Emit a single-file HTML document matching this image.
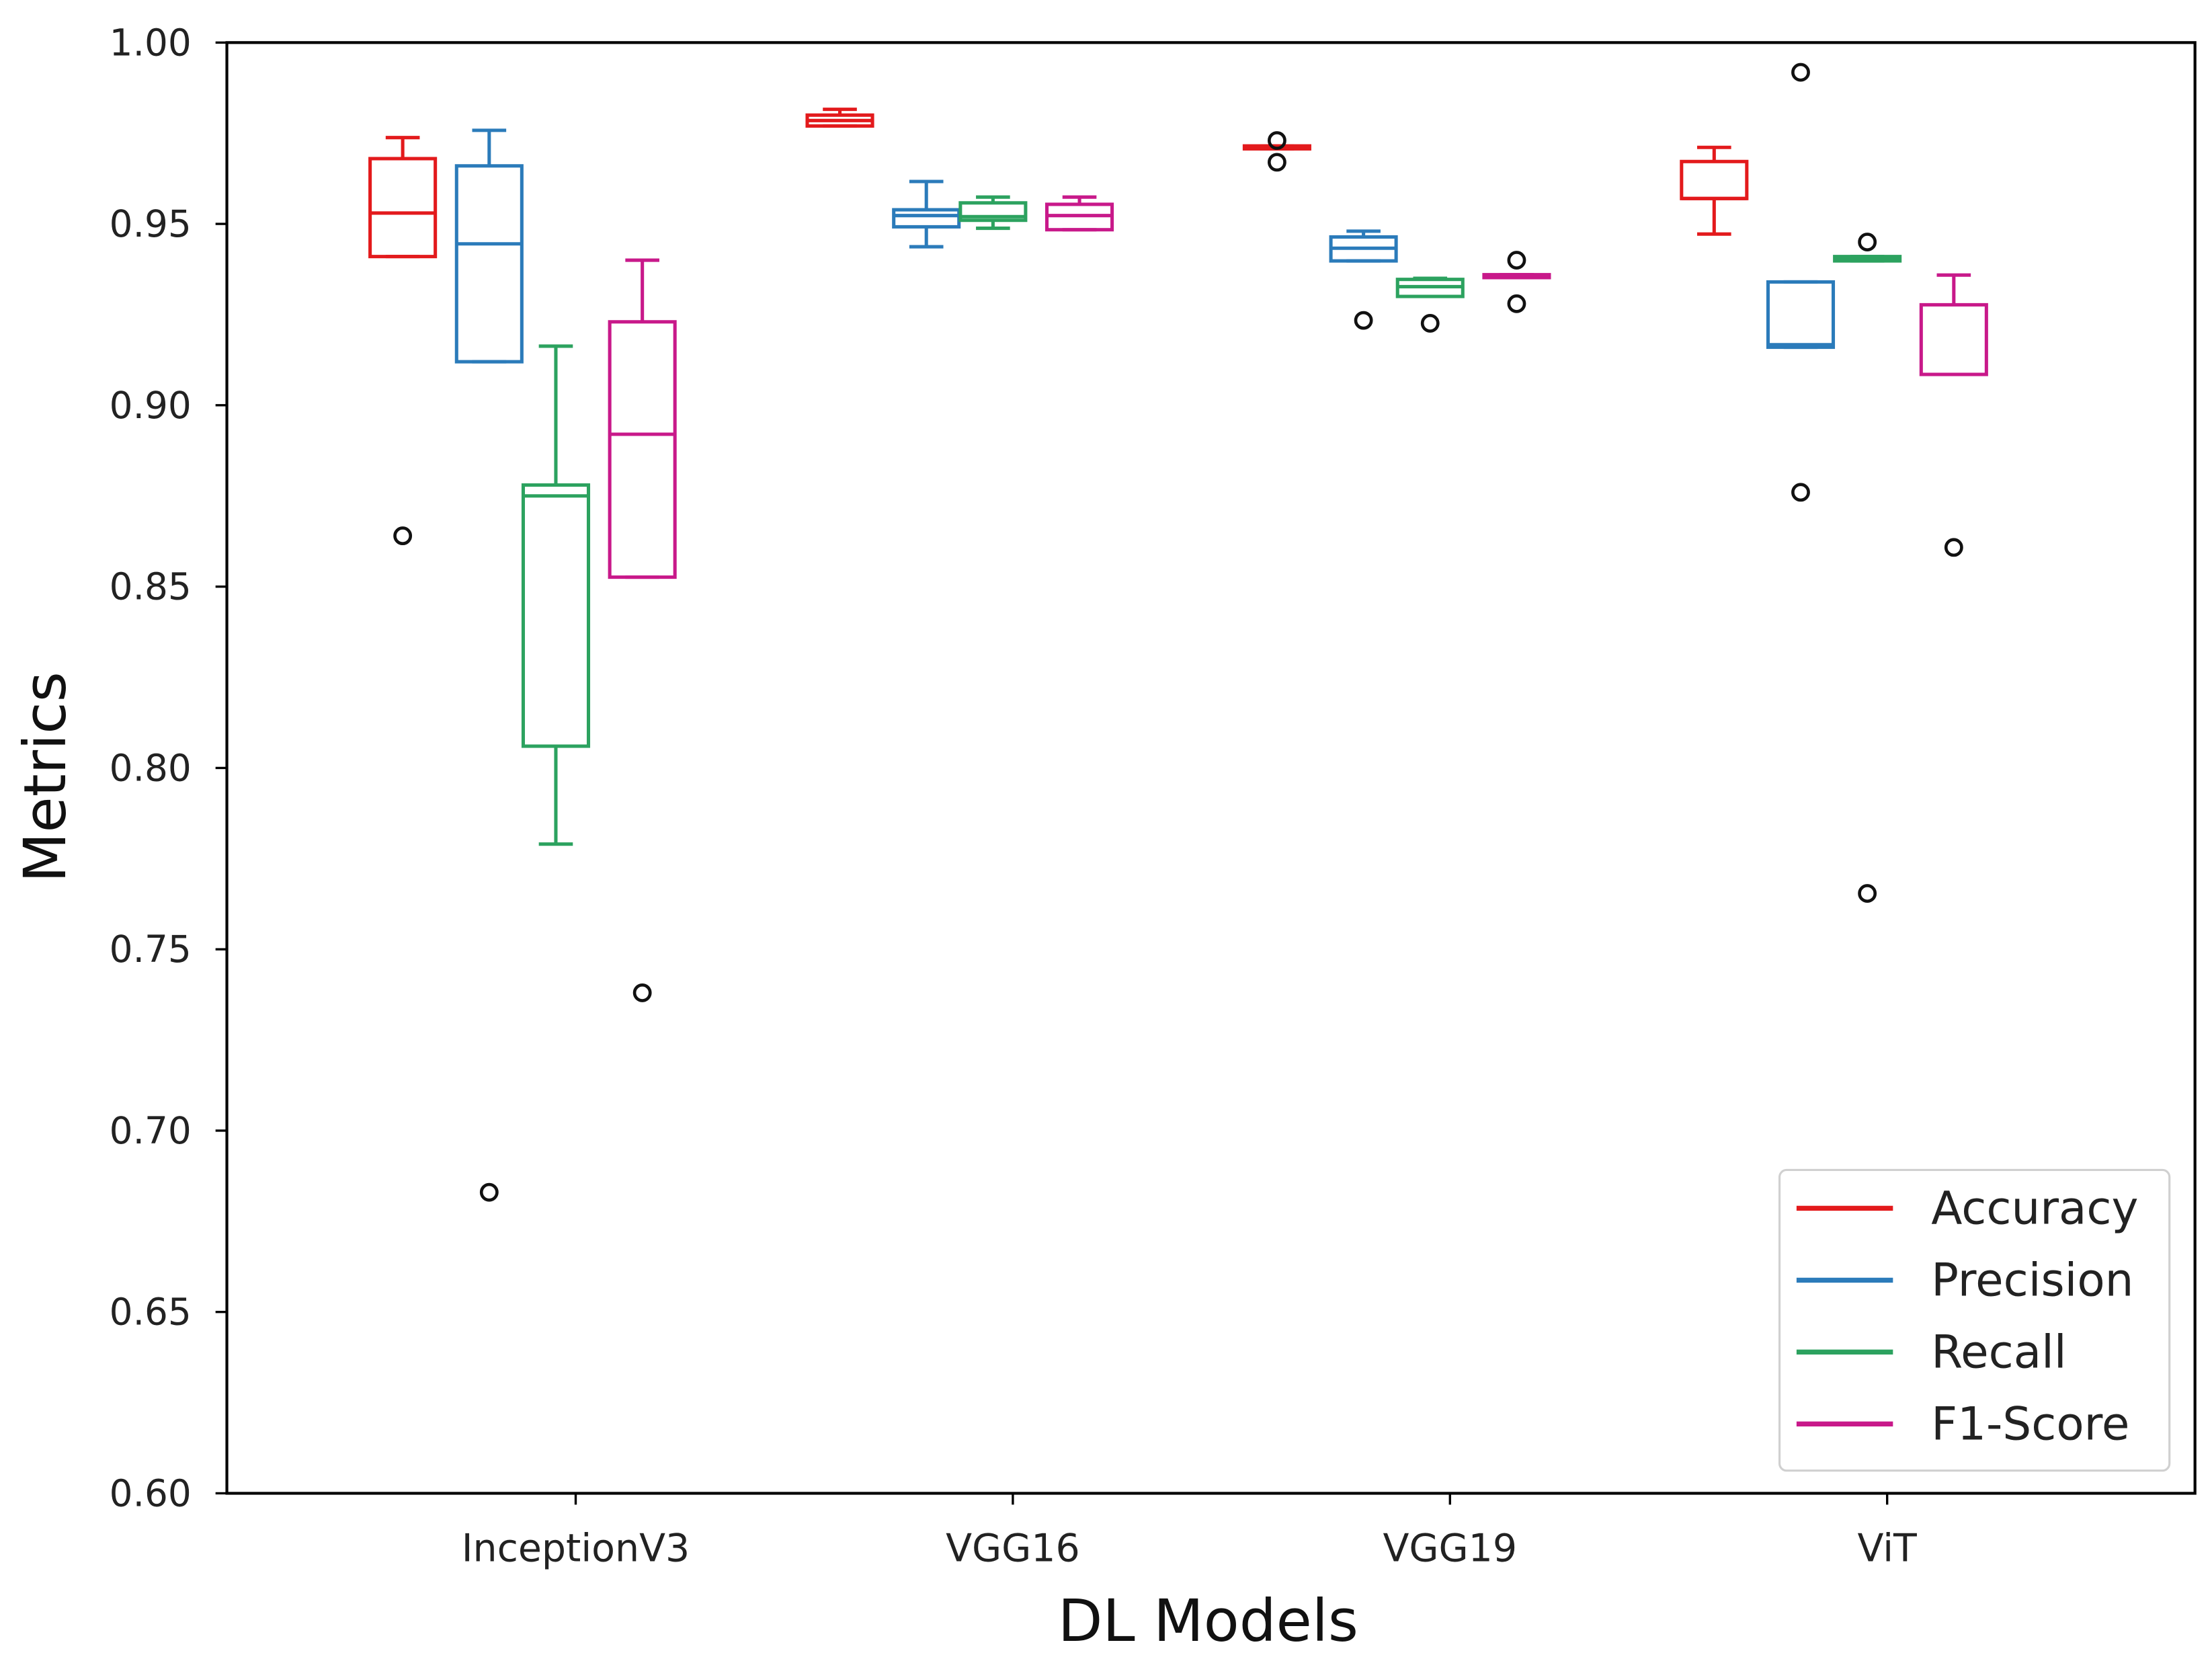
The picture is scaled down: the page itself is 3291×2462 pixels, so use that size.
<!DOCTYPE html>
<html><head><meta charset="utf-8"><style>
html,body{margin:0;padding:0;background:#fff;}
svg{display:block;font-family:"DejaVu Sans","Liberation Sans",sans-serif;}
</style></head><body>
<svg id="chart" width="3291" height="2462" viewBox="0 0 1560 1167" xmlns="http://www.w3.org/2000/svg"></svg>
<script>
const categories = ["InceptionV3","VGG16","VGG19","ViT"];
const seriesNames = ["Accuracy","Precision","Recall","F1-Score"];
const seriesColors = ["#e31a1c","#2b7bba","#2ca25f","#c8198a"];
// [whiskerLow, Q1, median, Q3, whiskerHigh] per category
const accuracyStats = [[0.941,0.941,0.953,0.968,0.9738],[0.977,0.977,0.9785,0.980,0.9816],[0.9707,0.9707,0.9711,0.9715,0.9715],[0.9472,0.957,0.957,0.9672,0.9711]];
const precisionStats = [[0.912,0.912,0.9445,0.966,0.9758],[0.9437,0.9492,0.9523,0.9539,0.9617],[0.9398,0.9398,0.9433,0.9464,0.948],[0.916,0.916,0.9167,0.934,0.934]];
const recallStats = [[0.779,0.806,0.875,0.878,0.9163],[0.9488,0.951,0.952,0.9558,0.9574],[0.930,0.930,0.9327,0.9347,0.935],[0.9398,0.9398,0.9405,0.941,0.941]];
const f1Stats = [[0.8526,0.8526,0.892,0.923,0.94],[0.9484,0.9484,0.9523,0.9554,0.9574],[0.9352,0.9352,0.9356,0.936,0.936],[0.9085,0.9085,0.9085,0.9277,0.9359]];
const accuracyOutliers = [[0.864],[],[0.973,0.967],[]];
const precisionOutliers = [[0.683],[],[0.9234],[0.9918,0.876]];
const recallOutliers = [[],[],[0.9226],[0.945,0.7654]];
const f1Outliers = [[0.738],[],[0.94,0.928],[0.8608]];
const yTicks = [0.60,0.65,0.70,0.75,0.80,0.85,0.90,0.95,1.00];

const allStats=[accuracyStats,precisionStats,recallStats,f1Stats];
const allOut=[accuracyOutliers,precisionOutliers,recallOutliers,f1Outliers];
const L=160,R=1548,T=30,B=1053,ymin=0.60,ymax=1.00;
const y=v=>B-(v-ymin)/(ymax-ymin)*(B-T);
const groupX=i=>406+i*308.3;
const offs=[-122,-61,-14,47];
const svg=document.getElementById('chart');
const NS="http://www.w3.org/2000/svg";
function mk(tag,attrs,parent){const e=document.createElementNS(NS,tag);for(const k in attrs)e.setAttribute(k,attrs[k]);(parent||svg).appendChild(e);return e;}

yTicks.forEach(t=>{
  const g=mk('g',{});
  
  
  mk('line',{x1:L-8,x2:L,y1:y(t),y2:y(t),stroke:'#000','stroke-width':1.6},g);
  const tx=mk('text',{x:L-25,y:y(t)+9,'text-anchor':'end','font-size':26,fill:'#222'},g);
  tx.textContent=t.toFixed(2);
});
categories.forEach((c,i)=>{
  const g=mk('g',{});
  
  
  mk('line',{x1:groupX(i),x2:groupX(i),y1:B,y2:B+8,stroke:'#000','stroke-width':1.6},g);
  const tx=mk('text',{x:groupX(i),y:B+48,'text-anchor':'middle','font-size':27,fill:'#222'},g);
  tx.textContent=c;
});
allStats.forEach((st,s)=>{
  const col=seriesColors[s];
  st.forEach((d,i)=>{
    const cx=groupX(i)+offs[s],w=46;
    const g=mk('g',{fill:'none',stroke:col,'stroke-width':2.4});
    
    
    mk('line',{x1:cx,x2:cx,y1:y(d[0]),y2:y(d[1])},g);
    mk('line',{x1:cx,x2:cx,y1:y(d[3]),y2:y(d[4])},g);
    mk('line',{x1:cx-12,x2:cx+12,y1:y(d[0]),y2:y(d[0])},g);
    mk('line',{x1:cx-12,x2:cx+12,y1:y(d[4]),y2:y(d[4])},g);
    mk('rect',{x:cx-w/2,y:y(d[3]),width:w,height:Math.max(0.5,y(d[1])-y(d[3]))},g);
    mk('line',{x1:cx-w/2,x2:cx+w/2,y1:y(d[2]),y2:y(d[2])},g);
    allOut[s][i].forEach(o=>{
      const c=mk('circle',{cx:cx,cy:y(o),r:5.5,stroke:'#111','stroke-width':2.2,fill:'none'},svg);
      
      
    });
  });
});
const fr=mk('rect',{x:L,y:T,width:R-L,height:B-T,fill:'none',stroke:'#000','stroke-width':2});


const xt=mk('text',{x:852,y:1157,'text-anchor':'middle','font-size':41,fill:'#111'});


xt.textContent='DL Models';
const yt=mk('text',{x:0,y:0,'text-anchor':'middle','font-size':41,fill:'#111',transform:'translate(46,548) rotate(-90)'});


yt.textContent='Metrics';
const lg=mk('g',{});


mk('rect',{x:1255,y:825,width:275,height:212,rx:5,fill:'#fff',stroke:'#d0d0d0','stroke-width':1.5},lg);
seriesNames.forEach((n,s)=>{
  const e=mk('g',{},lg);
  
  
  const ly=852+s*50.7;
  mk('line',{x1:1267,x2:1335,y1:ly,y2:ly,stroke:seriesColors[s],'stroke-width':3.5},e);
  const t=mk('text',{x:1362,y:ly+11,'font-size':32,fill:'#222'},e);
  t.textContent=n;
});
</script>
</body></html>
